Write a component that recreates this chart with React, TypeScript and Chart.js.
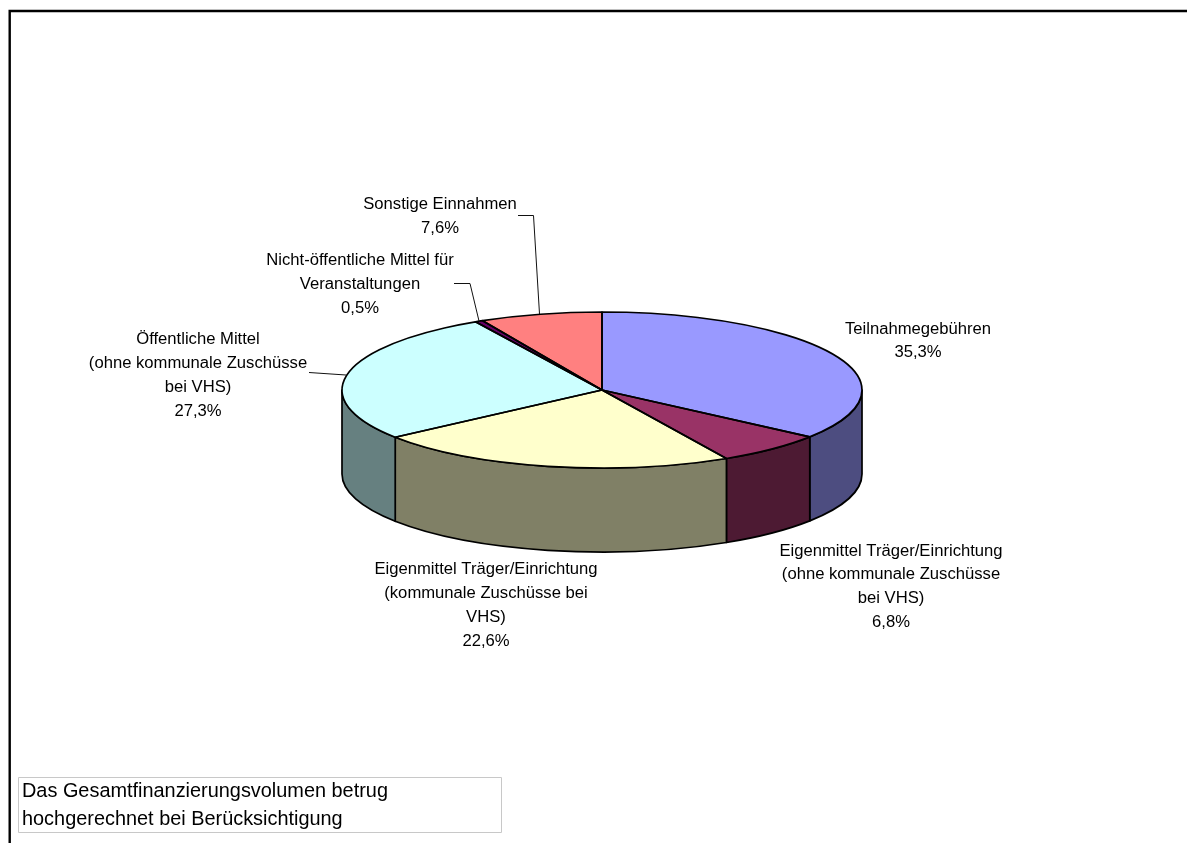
import React, { useEffect, useRef } from "react";
import { Chart, registerables } from "chart.js";

Chart.register(...registerables);

const categories = [
  "Teilnahmegebühren",
  "Eigenmittel Träger/Einrichtung (ohne kommunale Zuschüsse bei VHS)",
  "Eigenmittel Träger/Einrichtung (kommunale Zuschüsse bei VHS)",
  "Öffentliche Mittel (ohne kommunale Zuschüsse bei VHS)",
  "Nicht-öffentliche Mittel für Veranstaltungen",
  "Sonstige Einnahmen",
];
const values = [35.3, 6.8, 22.6, 27.3, 0.5, 7.6];
const topColors = ["#9999FF", "#993366", "#FFFFCC", "#CCFFFF", "#660066", "#FF8080"];
const wallColors = ["#4D4D80", "#4D1A33", "#808066", "#668080", "#330033", "#804040"];
const labelLines = [
  ["Teilnahmegebühren"],
  ["Eigenmittel Träger/Einrichtung", "(ohne kommunale Zuschüsse", "bei VHS)"],
  ["Eigenmittel Träger/Einrichtung", "(kommunale Zuschüsse bei", "VHS)"],
  ["Öffentliche Mittel", "(ohne kommunale Zuschüsse", "bei VHS)"],
  ["Nicht-öffentliche Mittel für", "Veranstaltungen"],
  ["Sonstige Einnahmen"],
];
const noteLines = ["Das Gesamtfinanzierungsvolumen betrug", "hochgerechnet bei Berücksichtigung"];

const W = 1187;
const H = 843;
const CENTER_Y = 390;
const TILT = 78 / 260;
const DEPTH = 84;
const FONT = '16.65px "Liberation Sans", Arial, sans-serif';
const NOTE_FONT = '19.9px "Liberation Sans", Arial, sans-serif';
const labelLayout = [
  { x: 918, y: 329, step: 23.5 },
  { x: 891, y: 551, step: 23.7 },
  { x: 486, y: 569, step: 24 },
  { x: 198, y: 339, step: 24.3 },
  { x: 360, y: 260, step: 24 },
  { x: 440, y: 204, step: 24 },
];
const leaders = [
  [[518, 215.5], [533.5, 215.5], [539.5, 314]],
  [[454, 283.5], [470, 283.5], [479, 321]],
  [[309, 372.5], [346, 375]],
];

const pseudo3d = {
  id: "pseudo3d",
  beforeDatasetsDraw(chart: any) {
    const { ctx } = chart;
    const arcs = chart.getDatasetMeta(0).data;
    const cx = arcs[0].x;
    const r = arcs[0].outerRadius;
    const ry = r * TILT;
    // frame
    ctx.save();
    ctx.strokeStyle = "#000";
    ctx.lineWidth = 2.4;
    ctx.beginPath();
    ctx.moveTo(W, 11);
    ctx.lineTo(9.7, 11);
    ctx.lineTo(9.7, H);
    ctx.stroke();
    // side walls: only the part of each slice on the front half
    arcs.forEach((a: any, i: number) => {
      const TWO = Math.PI * 2;
      const ranges = [
        [a.startAngle, a.endAngle],
        [a.startAngle - TWO, a.endAngle - TWO],
        [a.startAngle + TWO, a.endAngle + TWO],
      ];
      ranges.forEach(([s, e]) => {
        const a0 = Math.max(s, 0);
        const a1 = Math.min(e, Math.PI);
        if (a1 <= a0) return;
        ctx.beginPath();
        ctx.ellipse(cx, CENTER_Y, r, ry, 0, a0, a1);
        ctx.ellipse(cx, CENTER_Y + DEPTH, r, ry, 0, a1, a0, true);
        ctx.closePath();
        ctx.fillStyle = wallColors[i];
        ctx.fill();
        ctx.strokeStyle = "#000";
        ctx.lineWidth = 1.7;
        ctx.lineJoin = "round";
        ctx.stroke();
      });
    });
    ctx.restore();
    // squash the library's own arcs into the tilted ellipse
    ctx.save();
    ctx.translate(0, CENTER_Y);
    ctx.scale(1, TILT);
    ctx.translate(0, -arcs[0].y);
  },
  afterDatasetsDraw(chart: any) {
    const { ctx } = chart;
    ctx.restore();
    const arcs = chart.getDatasetMeta(0).data;
    ctx.save();
    ctx.strokeStyle = "#000";
    ctx.lineWidth = 1.7;
    ctx.lineJoin = "round";
    arcs.forEach((a: any) => {
      const r = a.outerRadius;
      ctx.beginPath();
      ctx.moveTo(a.x, CENTER_Y);
      ctx.ellipse(a.x, CENTER_Y, r, r * TILT, 0, a.startAngle, a.endAngle);
      ctx.closePath();
      ctx.stroke();
    });
    // leaders
    ctx.lineWidth = 1;
    ctx.strokeStyle = "#111";
    leaders.forEach((pts) => {
      ctx.beginPath();
      pts.forEach(([x, y], i) => (i ? ctx.lineTo(x, y) : ctx.moveTo(x, y)));
      ctx.stroke();
    });
    // labels
    ctx.fillStyle = "#000";
    ctx.font = FONT;
    ctx.textAlign = "center";
    ctx.textBaseline = "middle";
    labelLines.forEach((lines, i) => {
      const l = labelLayout[i];
      const all = [...lines, values[i].toFixed(1).replace(".", ",") + "%"];
      all.forEach((t, j) => ctx.fillText(t, l.x, l.y + j * l.step));
    });
    // note box
    ctx.fillStyle = "#fff";
    ctx.fillRect(18.5, 777.5, 483, 55);
    ctx.strokeStyle = "#c8c8c8";
    ctx.lineWidth = 1;
    ctx.strokeRect(18.5, 777.5, 483, 55);
    ctx.fillStyle = "#000";
    ctx.font = NOTE_FONT;
    ctx.textAlign = "left";
    noteLines.forEach((t, j) => ctx.fillText(t, 22, 792 + j * 27.5));
    ctx.restore();
  },
};

export default function App() {
  const ref = useRef<HTMLCanvasElement>(null);
  useEffect(() => {
    const chart = new Chart(ref.current!, {
      type: "pie",
      data: {
        labels: categories,
        datasets: [{ data: values, backgroundColor: topColors, borderWidth: 0 }],
      },
      options: {
        animation: false,
        responsive: false,
        rotation: 0,
        layout: { padding: { left: 342, right: 325, top: 160, bottom: 163 } },
        plugins: { legend: { display: false }, tooltip: { enabled: false } },
      },
      plugins: [pseudo3d],
    });
    return () => chart.destroy();
  }, []);
  return (
    <canvas
      ref={ref}
      width={W}
      height={H}
      style={{ position: "absolute", left: 0, top: 0, width: W, height: H, background: "#fff" }}
    />
  );
}
